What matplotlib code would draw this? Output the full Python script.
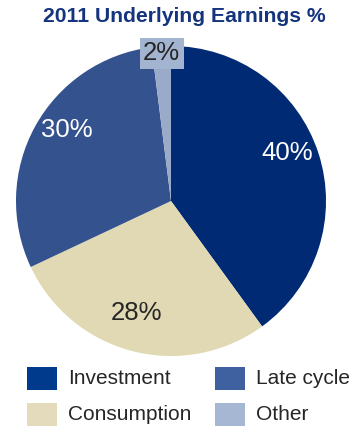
import numpy as np
import matplotlib
matplotlib.use("Agg")
import matplotlib.pyplot as plt
from matplotlib.patches import Rectangle

plt.rcParams['font.family'] = ['Liberation Sans', 'DejaVu Sans']

title = "2011 Underlying Earnings %"
categories = ["Investment", "Consumption", "Late cycle", "Other"]
shares = [40, 28, 30, 2]
wedge_colors = ["#002a73", "#e1d9b3", "#34528e", "#9aabc9"]
legend_colors = ["#003a8c", "#e3dbbb", "#40619f", "#a6b7d3"]
label_colors = ["white", "#262626", "white", "#262626"]
label_radius = [0.81, 0.755, 0.81, 0.955]
label_shift_deg = [-4.3, 2.5, 5.5, 0.0]   # clockwise nudge from wedge middle

W, H = 353, 429
fig = plt.figure(figsize=(W / 100, H / 100), dpi=100)
fig.patch.set_facecolor("white")

cx, cy, r = 171, 201, 155
ax = fig.add_axes([(cx - r) / W, (H - cy - r) / H, 2 * r / W, 2 * r / H])
wedges, _ = ax.pie(shares, colors=wedge_colors, startangle=90, counterclock=False,
                   radius=1.0, wedgeprops=dict(linewidth=0))
ax.set_xlim(-1, 1)
ax.set_ylim(-1, 1)
ax.set_aspect("equal")
ax.axis("off")

total = sum(shares)
start = 90.0
for i, v in enumerate(shares):
    span = 360.0 * v / total
    mid = np.deg2rad(start - span / 2 - label_shift_deg[i])
    start -= span
    x, y = label_radius[i] * np.cos(mid), label_radius[i] * np.sin(mid)
    kw = dict(ha="center", va="center", fontsize=18.5, color=label_colors[i])
    if categories[i] == "Other":
        kw["bbox"] = dict(boxstyle="square,pad=0.13", fc="#a3b4d0", ec="none")
    ax.text(x, y, f"{v}%", **kw)

fig.text(184 / W, 1 - 17 / H, title, ha="center", va="center",
         fontsize=15.2, fontweight="bold", color="#14347d")

# legend: two rows, two columns
order = [0, 2, 1, 3]
col_x = [27, 215]
row_y = [367, 403]
sw, sh = 30, 23
for k, idx in enumerate(order):
    row, col = divmod(k, 2)
    x0, y0 = col_x[col], row_y[row]
    fig.add_artist(Rectangle((x0 / W, 1 - (y0 + sh) / H), sw / W, sh / H,
                             transform=fig.transFigure, fc=legend_colors[idx], ec="none"))
    fig.text((x0 + sw + 11) / W, 1 - (y0 + sh / 2) / H, categories[idx],
             ha="left", va="center", fontsize=15, color="#262626")

fig.savefig("out.png", dpi=100)
